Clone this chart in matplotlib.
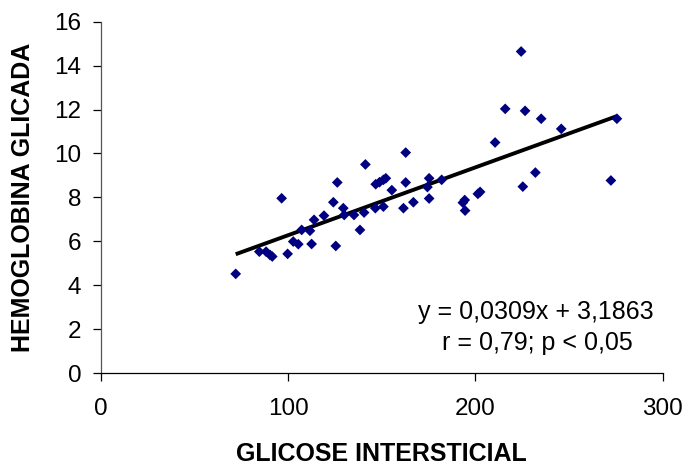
import matplotlib
matplotlib.use("Agg")
import matplotlib.pyplot as plt
import numpy as np

plt.rcParams['font.family'] = ['Liberation Sans', 'DejaVu Sans']

# Interstitial glucose vs. glycated haemoglobin
glicose = [72.1, 84.7, 88.3, 90.4, 91.6, 96.6, 99.8, 102.8, 105.5, 107.3,
           111.7, 112.6, 113.9, 119.2, 124.2, 126.3, 125.5, 129.5, 130.0, 135.2,
           138.4, 140.6, 141.3, 146.6, 146.8, 148.8, 150.9, 152.2, 150.9, 155.4,
           162.8, 161.6, 162.8, 166.9, 175.3, 174.4, 175.3, 182.0, 193.3, 194.3,
           194.5, 201.3, 202.5, 210.5, 215.9, 224.4, 225.3, 226.5, 232.0, 235.1,
           245.8, 272.3, 275.5]
hba1c = [4.52, 5.53, 5.53, 5.38, 5.31, 7.96, 5.43, 5.99, 5.87, 6.52,
         6.48, 5.88, 6.98, 7.17, 7.78, 8.68, 5.79, 7.51, 7.20, 7.20,
         6.52, 7.31, 9.50, 7.51, 8.60, 8.69, 8.80, 8.87, 7.58, 8.33,
         10.04, 7.51, 8.68, 7.78, 8.87, 8.47, 7.95, 8.80, 7.76, 7.88,
         7.40, 8.16, 8.25, 10.50, 12.03, 14.64, 8.49, 11.94, 9.13, 11.58,
         11.12, 8.77, 11.58]

slope = 0.0309
intercept = 3.1863
x_ticks = [0, 100, 200, 300]
y_ticks = [0, 2, 4, 6, 8, 10, 12, 14, 16]

fig = plt.figure(figsize=(6.89, 4.70), dpi=100)
ax = fig.add_axes([0.146, 0.206, 0.816, 0.748])

ax.scatter(glicose, hba1c, marker='D', s=30, color='#000080',
           edgecolors='none', zorder=3)

xl = np.array([min(glicose), max(glicose)])
ax.plot(xl, slope * xl + intercept, color='black', lw=2.8,
        solid_capstyle='butt', zorder=2)

ax.set_xlim(0, 300)
ax.set_ylim(0, 16)
ax.set_xticks(x_ticks)
ax.set_yticks(y_ticks)
ax.tick_params(axis='both', labelsize=17.5, length=6, width=0.9,
               direction='out', color='black')
ax.tick_params(axis='x', pad=12)
ax.tick_params(axis='y', pad=8)

for side in ('top', 'right'):
    ax.spines[side].set_visible(False)
ax.spines['left'].set_color('#555555')
ax.spines['bottom'].set_color('black')
for side in ('left', 'bottom'):
    ax.spines[side].set_linewidth(0.9)

ax.set_xlabel('GLICOSE INTERSTICIAL', fontsize=18, fontweight='bold',
              labelpad=16)
ax.set_ylabel('HEMOGLOBINA GLICADA', fontsize=18, fontweight='bold',
              labelpad=14)

ax.text(232, 2.80, 'y = 0,0309x + 3,1863', fontsize=18,
        ha='center', va='center')
ax.text(233, 1.38, 'r = 0,79; p < 0,05', fontsize=18,
        ha='center', va='center')

fig.savefig('out.png', dpi=100)
